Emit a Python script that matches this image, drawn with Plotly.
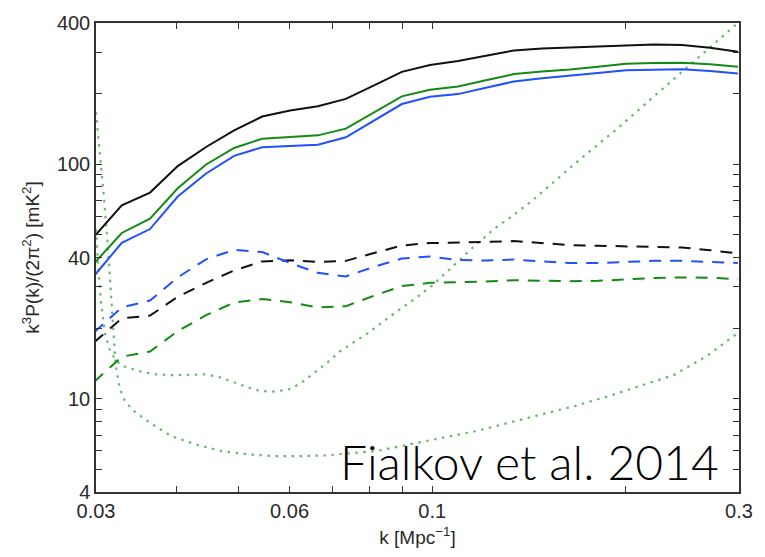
import plotly.graph_objects as go
import math

# k bins (Mpc^-1)
K = [0.0298, 0.0329, 0.0364, 0.0402, 0.0445, 0.0492, 0.0544, 0.0601, 0.0664, 0.0734,
     0.0812, 0.0897, 0.0992, 0.1097, 0.1212, 0.1340, 0.1482, 0.1638, 0.1810, 0.2001,
     0.2212, 0.2446, 0.2704, 0.2989]

black_solid = [49.1, 66.7, 75.7, 98.1, 118.4, 139.4, 159.7, 169.3, 176.5, 189.9,
               216.6, 247.5, 265.0, 275.5, 290.1, 305.5, 311.5, 315.1, 318.2, 321.9,
               323.8, 321.9, 313.5, 301.6]
green_solid = [37.8, 50.9, 58.6, 78.9, 99.7, 117.3, 128.4, 130.5, 132.7, 141.8,
               166.5, 194.6, 207.7, 214.5, 227.8, 242.2, 248.2, 253.1, 260.6, 268.3,
               270.2, 271.0, 267.0, 260.6]
blue_solid = [33.4, 46.2, 52.9, 72.8, 91.3, 108.5, 118.1, 119.2, 121.1, 130.2,
              153.3, 180.5, 194.0, 199.0, 211.8, 225.2, 232.5, 238.0, 244.6, 251.4,
              253.1, 253.8, 249.4, 243.4]

black_dash = [17.4, 22.0, 22.6, 27.2, 31.2, 35.2, 38.5, 38.9, 38.3, 38.7,
              41.8, 45.0, 46.1, 46.2, 46.6, 47.0, 46.1, 45.2, 44.9, 44.7,
              44.5, 44.1, 43.0, 41.6]
blue_dash = [19.2, 24.5, 26.2, 32.9, 39.3, 43.1, 42.2, 37.9, 34.4, 33.2,
             36.5, 39.6, 40.4, 39.0, 38.8, 39.2, 38.5, 37.9, 37.9, 38.3,
             38.7, 38.7, 38.3, 37.9]
green_dash = [11.8, 15.1, 15.9, 19.4, 22.7, 25.7, 26.6, 25.8, 24.5, 24.8,
              27.5, 30.2, 31.2, 31.3, 31.6, 32.0, 31.8, 31.7, 31.8, 32.3,
              32.7, 32.9, 32.8, 32.3]

# dotted noise curves
k_dot_a = [0.0300, 0.03021, 0.03053, 0.03097, 0.03152, 0.03219, 0.03298, 0.03415, 0.03538,
           0.03718, 0.03939, 0.04185, 0.04443, 0.04697, 0.05043, 0.05298, 0.05593, 0.05960,
           0.06236, 0.06555, 0.06860, 0.07182, 0.07908, 0.08708, 0.09458, 0.1003, 0.1076,
           0.1154, 0.1252, 0.1330, 0.1425, 0.1564, 0.1701, 0.1936, 0.2129, 0.2342, 0.2539,
           0.2754, 0.3000]
dot_a = [52.8, 37.9, 26.2, 19.0, 16.1, 14.6, 13.8, 13.4, 13.0,
         12.7, 12.6, 12.65, 12.7, 12.3, 11.4, 10.9, 10.7, 10.9,
         11.6, 12.9, 14.2, 15.9, 18.9, 23.0, 27.0, 30.6, 36.5,
         43.9, 53.3, 59.9, 69.3, 86.8, 105.4, 141.1, 177.7, 223.0, 271.0,
         329.2, 403.9]

k_dot_b = [0.0300, 0.03043, 0.03086, 0.03130, 0.03175, 0.03219, 0.03265, 0.03322, 0.03415,
           0.03538, 0.03718, 0.03939, 0.04289, 0.04697, 0.05175, 0.05690, 0.06236, 0.06860,
           0.07443, 0.08190, 0.09201, 0.1037, 0.1167, 0.1311, 0.1477, 0.1659, 0.1869,
           0.2106, 0.2373, 0.2674, 0.3000]
dot_b = [166.5, 112.8, 72.8, 44.7, 24.9, 13.9, 11.1, 9.89, 8.97,
         8.34, 7.60, 6.90, 6.38, 5.98, 5.79, 5.69, 5.69, 5.73,
         5.85, 5.98, 6.38, 6.81, 7.26, 7.88, 8.55, 9.27, 10.2,
         11.3, 12.6, 15.2, 19.2]

x_tickvals = [0.03, 0.04, 0.05, 0.06, 0.07, 0.08, 0.09, 0.1, 0.2, 0.3]
x_ticktext = ["0.03", "", "", "0.06", "", "", "", "0.1", "", "0.3"]
y_tickvals = [4, 5, 6, 7, 8, 9, 10, 20, 30, 40, 50, 60, 70, 80, 90, 100, 200, 300, 400]
y_ticktext = ["4", "", "", "", "", "", "10", "", "", "40", "", "", "", "", "", "100", "", "", "400"]

BLACK = "#111111"
GREEN = "#138a13"
BLUE = "#2050ff"
DOTGREEN = "rgba(70,165,70,0.8)"
FONT = "Liberation Sans, Arial, sans-serif"

fig = go.Figure()

def add(x, y, color, dash, width=2):
    fig.add_trace(go.Scatter(x=x, y=y, mode="lines",
                             line=dict(color=color, width=width, dash=dash),
                             showlegend=False, hoverinfo="skip"))

add(k_dot_a, dot_a, DOTGREEN, "2.5px,5.5px", 2.2)
add(k_dot_b, dot_b, DOTGREEN, "2.5px,5.5px", 2.2)
add(K, green_dash, GREEN, "12px,9px")
add(K, black_dash, BLACK, "12px,9px")
add(K, blue_dash, BLUE, "12px,9px")
add(K, black_solid, BLACK, "solid")
add(K, green_solid, GREEN, "solid")
add(K, blue_solid, BLUE, "solid")

axis_common = dict(
    type="log", showgrid=False, zeroline=False, showline=True,
    linecolor="#333333", linewidth=1.5, mirror="ticks",
    ticks="inside", ticklen=6, tickwidth=1.2, tickcolor="#333333",
    tickfont=dict(family=FONT, size=20, color="#2a2a2a"),
)

fig.update_xaxes(**axis_common, range=[math.log10(0.03), math.log10(0.3)],
                 tickmode="array", tickvals=x_tickvals, ticktext=x_ticktext,
                 title=dict(text="k [Mpc<sup>−1</sup>]", standoff=10,
                            font=dict(family=FONT, size=19, color="#2a2a2a")))
fig.update_yaxes(**axis_common, range=[math.log10(4), math.log10(400)],
                 tickmode="array", tickvals=y_tickvals, ticktext=y_ticktext,
                 title=dict(text="k<sup>3</sup>P(k)/(2π<sup>2</sup>) [mK<sup>2</sup>]", standoff=12,
                            font=dict(family=FONT, size=19, color="#2a2a2a")))

fig.add_annotation(text="Fialkov et al. 2014", xref="paper", yref="paper",
                   x=0.376, y=0.066, xanchor="left", yanchor="middle", showarrow=False,
                   font=dict(family="Lato, Open Sans, sans-serif", size=48, color="#000000", weight=300))

fig.update_layout(width=765, height=557, margin=dict(l=96, r=18, t=20, b=64),
                  paper_bgcolor="white", plot_bgcolor="white", showlegend=False)

fig.write_html("out.html")
